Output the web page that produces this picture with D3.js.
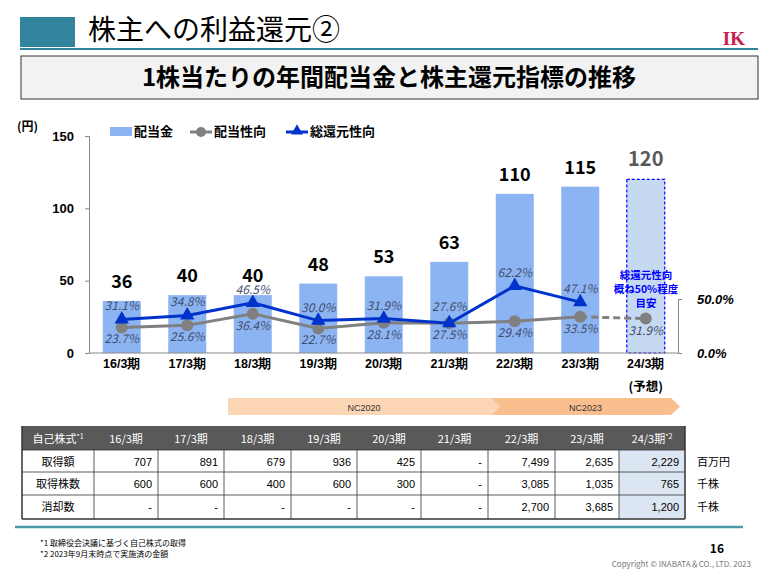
<!DOCTYPE html><html><head><meta charset="utf-8"><script src="https://cdn.jsdelivr.net/npm/d3@7"></script>
<style>body{margin:0;background:#fff}svg{font-family:"Noto Sans CJK JP","Noto Sans",sans-serif}</style></head><body>
<svg id="c" width="773" height="574"></svg>
<script>
const categories=["16/3期","17/3期","18/3期","19/3期","20/3期","21/3期","22/3期","23/3期","24/3期"];
const dividend=[36,40,40,48,53,63,110,115,120];
const payout=[23.7,25.6,36.4,22.7,28.1,27.5,29.4,33.5,31.9];
const totalReturn=[31.1,34.8,46.5,30.0,31.9,27.6,62.2,47.1];
const yTicks=[0,50,100,150];
const pctTicks=[0,50];
const tableHeader=["自己株式","16/3期","17/3期","18/3期","19/3期","20/3期","21/3期","22/3期","23/3期","24/3期"];
const rowLabels=["取得額","取得株数","消却数"];
const rowUnits=["百万円","千株","千株"];
const rowAmount=["707","891","679","936","425","-","7,499","2,635","2,229"];
const rowShares=["600","600","400","600","300","-","3,085","1,035","765"];
const rowRetired=["-","-","-","-","-","-","2,700","3,685","1,200"];

const svg=d3.select("#c");
svg.append("rect").attr("x",20).attr("y",17).attr("width",55).attr("height",30).attr("fill","#31849b");
svg.append("text").attr("x",88).attr("y",40).attr("font-size",28).attr("fill","#000").text("株主への利益還元②");
svg.append("line").attr("x1",20).attr("x2",758).attr("y1",49).attr("y2",49).attr("stroke","#31849b").attr("stroke-width",2);
svg.append("text").attr("x",745).attr("y",45).attr("text-anchor","end").attr("font-size",19).attr("font-weight","bold").attr("font-family","Liberation Serif").attr("fill","#c8204a").text("IK");
svg.append("rect").attr("x",21).attr("y",56).attr("width",737).attr("height",43).attr("fill","#f2f2f2").attr("stroke","#333");
svg.append("text").attr("x",389).attr("y",86).attr("text-anchor","middle").attr("font-size",24).attr("font-weight","bold").text("1株当たりの年間配当金と株主還元指標の推移");

const x=d3.scaleBand().domain(categories).range([89,678.5]).paddingInner(0.42).paddingOuter(0.21);
const y=d3.scaleLinear().domain([0,150]).range([353,136]);
const yp=d3.scaleLinear().domain([0,50]).range([353,299]);
const cx=c=>x(c)+x.bandwidth()/2;

svg.selectAll(".bar").data(dividend).join("rect")
 .attr("x",(d,i)=>x(categories[i])).attr("y",d=>y(d)).attr("width",x.bandwidth()).attr("height",d=>353-y(d))
 .attr("fill",(d,i)=>i===8?"#c5d9f1":"#8db4f2")
 .attr("stroke",(d,i)=>i===8?"#0000ff":"none").attr("stroke-dasharray","3,2").attr("stroke-width",1.2);
svg.selectAll(".bl").data(dividend).join("text")
 .attr("x",(d,i)=>cx(categories[i])).attr("y",d=>y(d)-13).attr("text-anchor","middle")
 .attr("font-size",(d,i)=>i===8?20:18).attr("font-weight","bold").attr("fill",(d,i)=>i===8?"#595959":"#000").text(d=>d);

const ga=svg.append("g").attr("transform","translate(89,0)").call(d3.axisLeft(y).tickValues(yTicks).tickSize(4));
ga.selectAll("text").attr("font-size",13).attr("font-weight","bold").attr("font-family","Liberation Sans").attr("dx",-8);
ga.select(".domain").attr("stroke","#888");ga.selectAll(".tick line").attr("stroke","#888");
svg.append("line").attr("x1",89).attr("x2",678).attr("y1",353).attr("y2",353).attr("stroke","#888");
const gr=svg.append("g").attr("transform","translate(678,0)").call(d3.axisRight(yp).tickValues(pctTicks).tickSize(4).tickFormat(d=>d.toFixed(1)+"%"));
gr.selectAll("text").attr("font-size",13).attr("font-weight","bold").attr("font-style","italic").attr("font-family","Liberation Sans").attr("dx",12);
gr.select(".domain").attr("stroke","#888");gr.selectAll(".tick line").attr("stroke","#888");
svg.append("text").attr("x",17).attr("y",131).attr("font-size",12).attr("font-weight","bold").text("(円)");

const xa=svg.append("g").attr("transform","translate(0,353)").call(d3.axisBottom(x).tickSize(0));
xa.select(".domain").remove();
xa.selectAll("text").attr("font-size",12.5).attr("font-weight","bold").attr("dy",12);
svg.append("text").attr("x",cx(categories[8])).attr("y",391).attr("text-anchor","middle").attr("font-size",12.5).attr("font-weight","bold").text("(予想)");

const line=d3.line().x(d=>d[0]).y(d=>d[1]);
const pp=payout.map((v,i)=>[cx(categories[i]),yp(v)]);
svg.append("path").attr("d",line(pp.slice(0,8))).attr("fill","none").attr("stroke","#808080").attr("stroke-width",3);
svg.append("path").attr("d",line(pp.slice(7,9))).attr("fill","none").attr("stroke","#808080").attr("stroke-width",3).attr("stroke-dasharray","7,4");
svg.selectAll(".pc").data(pp).join("circle").attr("cx",d=>d[0]).attr("cy",d=>d[1]).attr("r",6).attr("fill","#808080");
const tp=totalReturn.map((v,i)=>[cx(categories[i]),yp(v)]);
svg.append("path").attr("d",line(tp)).attr("fill","none").attr("stroke","#0033cc").attr("stroke-width",3);
svg.selectAll(".tt").data(tp).join("path").attr("transform",d=>`translate(${d[0]},${d[1]})`).attr("d",d3.symbol(d3.symbolTriangle,90)()).attr("fill","#0033cc");

svg.selectAll(".pl").data(payout).join("text").attr("x",(d,i)=>cx(categories[i])).attr("y",(d,i)=>yp(d)+16)
 .attr("text-anchor","middle").attr("font-size",12).attr("font-style","italic").attr("fill","#3f4f6f").text(d=>d.toFixed(1)+"%");
svg.selectAll(".tl").data(totalReturn).join("text").attr("x",(d,i)=>cx(categories[i])).attr("y",(d,i)=>yp(d)-(i===5?-4:9)-(i===5?16:0))
 .attr("text-anchor","middle").attr("font-size",12).attr("font-style","italic").attr("fill","#3f4f6f").text(d=>d.toFixed(1)+"%");

["総還元性向","概ね50%程度","目安"].forEach((t,i)=>svg.append("text").attr("x",646).attr("y",279+i*14).attr("text-anchor","middle").attr("font-size",10.5).attr("font-weight","bold").attr("fill","#0000ff").text(t));

svg.append("rect").attr("x",110).attr("y",127).attr("width",22).attr("height",9).attr("fill","#8db4f2");
svg.append("text").attr("x",134).attr("y",136).attr("font-size",13).attr("font-weight","bold").text("配当金");
svg.append("line").attr("x1",190).attr("x2",212).attr("y1",132).attr("y2",132).attr("stroke","#808080").attr("stroke-width",3);
svg.append("circle").attr("cx",201).attr("cy",132).attr("r",5).attr("fill","#808080");
svg.append("text").attr("x",214).attr("y",136).attr("font-size",13).attr("font-weight","bold").text("配当性向");
svg.append("line").attr("x1",286).attr("x2",308).attr("y1",132).attr("y2",132).attr("stroke","#0033cc").attr("stroke-width",3);
svg.append("path").attr("transform","translate(297,131)").attr("d",d3.symbol(d3.symbolTriangle,60)()).attr("fill","#0033cc");
svg.append("text").attr("x",310).attr("y",136).attr("font-size",13).attr("font-weight","bold").text("総還元性向");

function arrow(x0,x1,col,label,notch){
 const p=`M${x0},398 L${x1-9},398 L${x1},406.5 L${x1-9},415 L${x0},415 ${notch?`L${x0+9},406.5`:""} Z`;
 svg.append("path").attr("d",p).attr("fill",col);
 svg.append("text").attr("x",(x0+x1)/2).attr("y",410.5).attr("text-anchor","middle").attr("font-size",9).attr("font-family","Liberation Sans").attr("fill","#333").text(label);
}
arrow(228,500,"#fcd5b5","NC2020",false);
arrow(491,680,"#fabf8f","NC2023",true);

const cols=[22,94,158,224,291,357,421,488,555,619,685];
const rowsY=[426,450,472,495,519];
const data=[rowAmount,rowShares,rowRetired];
svg.append("rect").attr("x",cols[0]).attr("y",rowsY[0]).attr("width",cols[10]-cols[0]).attr("height",rowsY[1]-rowsY[0]).attr("fill","#595959");
svg.append("rect").attr("x",cols[9]).attr("y",rowsY[1]).attr("width",cols[10]-cols[9]).attr("height",rowsY[4]-rowsY[1]).attr("fill","#dce6f2");
tableHeader.forEach((t,i)=>{
 const tx=svg.append("text").attr("x",(cols[i]+cols[i+1])/2).attr("y",443).attr("text-anchor","middle").attr("font-size",11).attr("fill","#fff").text(t);
 if(i===0)tx.append("tspan").attr("font-size",7).attr("dy",-4).text("*1");
 if(i===9)tx.append("tspan").attr("font-size",7).attr("dy",-4).text("*2");
});
for(let r=0;r<3;r++){
 svg.append("text").attr("x",(cols[0]+cols[1])/2).attr("y",rowsY[r+1]+16).attr("text-anchor","middle").attr("font-size",11).text(rowLabels[r]);
 data[r].forEach((v,i)=>svg.append("text").attr("x",cols[i+2]-6).attr("y",rowsY[r+1]+16).attr("text-anchor","end").attr("font-size",11).attr("font-family","Liberation Sans Narrow, Liberation Sans").text(v));
 svg.append("text").attr("x",697).attr("y",rowsY[r+1]+16).attr("font-size",11).text(rowUnits[r]);
}
for(let r=1;r<5;r++)svg.append("line").attr("x1",cols[0]).attr("x2",cols[10]).attr("y1",rowsY[r]).attr("y2",rowsY[r]).attr("stroke","#333").attr("stroke-width",r===4?1.5:0.8);
cols.forEach((c,i)=>svg.append("line").attr("x1",c).attr("x2",c).attr("y1",rowsY[i===0||i===10?0:1]).attr("y2",rowsY[4]).attr("stroke","#333").attr("stroke-width",i===0||i===10?1.5:0.8));
svg.append("line").attr("x1",15).attr("x2",743).attr("y1",527).attr("y2",527).attr("stroke","#4a9aa8").attr("stroke-width",2.5);
svg.append("text").attr("x",40).attr("y",546).attr("font-size",8).text("*1  取締役会決議に基づく自己株式の取得");
svg.append("text").attr("x",40).attr("y",557).attr("font-size",8).text("*2  2023年9月末時点で実施済の金額");
svg.append("text").attr("x",724).attr("y",553).attr("text-anchor","end").attr("font-size",12).attr("font-weight","bold").text("16");
svg.append("text").attr("x",751).attr("y",567).attr("text-anchor","end").attr("font-size",8).attr("fill","#777").text("Copyright © INABATA＆CO., LTD.  2023");
</script></body></html>
